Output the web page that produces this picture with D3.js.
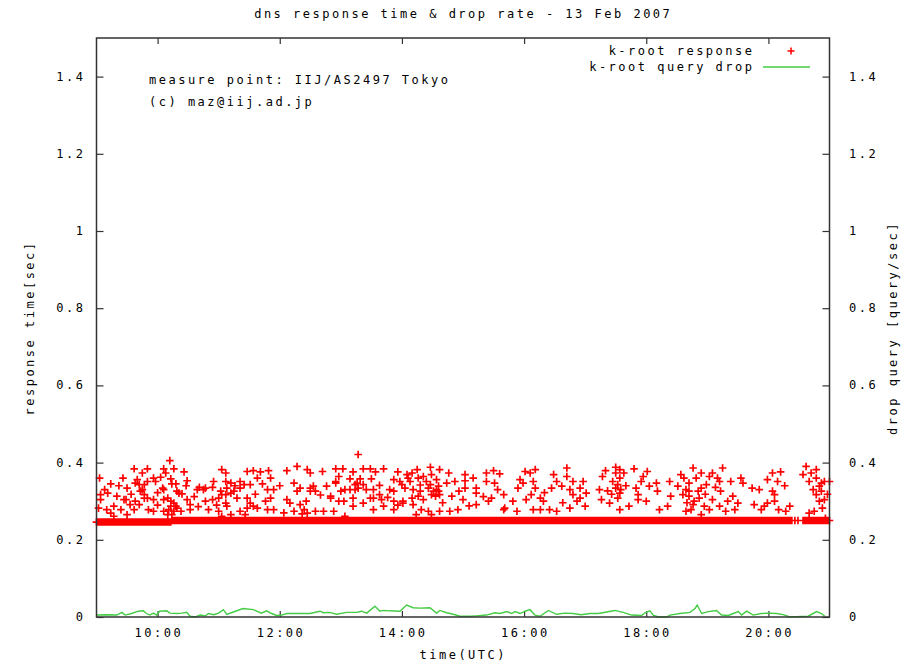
<!DOCTYPE html>
<html>
<meta charset="utf-8">
<head>
  <script src="https://cdn.jsdelivr.net/npm/d3@7"></script>
  <style>
    body { margin:0; background:#fff; }
    text { font-family:"DejaVu Sans Mono", monospace; font-size:12px; letter-spacing:2.5px; fill:#000; }
  </style>
</head>
<body>
<script>
    // times are minutes after 09:00 UTC, 13 Feb 2007
    var title = 'dns response time & drop rate - 13 Feb 2007'
    var notes = ['measure point: IIJ/AS2497 Tokyo', '(c) maz@iij.ad.jp']
    var seriesNames = ['k-root response', 'k-root query drop']
    var yTicks = [0, 0.2, 0.4, 0.6, 0.8, 1, 1.2, 1.4]

    // dense floor of responses: [from, to, seconds]
    var floorRuns = [[0, 73, 0.246], [74, 683, 0.250], [694, 720, 0.250]]
    var floorExtra = [[686, 0.250], [689, 0.250]]

    // scattered responses: [minute, ms]
    var scatter = [
	[72,405],[37,384],[50,384],[66,384],[76,384],[86,376],[68,373],[45,373],[63,362],[3,360],
	[26,360],[40,356],[56,360],[73,358],[89,353],[14,345],[38,347],[47,343],[50,351],[58,351],
	[74,345],[78,345],[101,336],[107,334],[123,382],[127,373],[115,351],[132,347],[141,351],[148,377],
	[154,379],[161,376],[169,379],[171,360],[158,360],[187,379],[197,390],[207,382],[210,373],[222,377],
	[235,384],[235,351],[238,364],[4,317],[11,321],[20,313],[27,304],[30,334],[43,326],[47,317],
	[66,330],[79,326],[84,319],[99,330],[105,330],[114,336],[122,326],[127,317],[132,321],[135,326],
	[141,334],[145,343],[151,343],[163,345],[168,330],[174,330],[194,347],[197,326],[200,334],[210,334],
	[213,339],[215,326],[226,339],[230,308],[240,326],[4,304],[2,282],[17,287],[24,278],[29,304],
	[33,291],[38,300],[47,308],[50,308],[56,304],[66,304],[73,300],[76,295],[89,304],[92,291],
	[107,300],[114,304],[120,308],[127,295],[128,287],[138,308],[148,308],[151,295],[154,287],[166,300],
	[171,308],[187,304],[190,295],[200,291],[230,313],[238,300],[14,269],[30,265],[37,278],[42,291],
	[51,278],[56,274],[66,274],[71,278],[76,274],[79,282],[83,274],[92,278],[110,278],[120,274],
	[132,265],[141,274],[148,282],[158,282],[168,278],[174,278],[194,274],[204,278],[207,269],[215,274],
	[223,274],[233,274],[17,261],[70,265],[74,265],[123,261],[146,265],[202,267],
	[70,308],[73,287],[78,287],[65,334],[81,321],[42,343],[45,330],[127,351],[128,334],[123,317],
	[210,326],[235,347],[8,330],[22,340],[34,318],[60,322],[88,340],[96,312],[118,290],[136,340],
	[156,318],[180,340],[206,300],[220,316],[184,270],[10,278],[60,290],[100,286],
	[257,421],[242,384],[252,376],[262,384],[269,384],[274,376],[282,384],[249,358],[259,358],[270,358],
	[256,347],[262,343],[278,341],[244,330],[254,330],[257,334],[265,330],[272,330],[288,330],[292,356],
	[296,376],[298,351],[305,369],[310,373],[315,382],[308,351],[316,360],[328,388],[329,369],[337,382],
	[346,373],[321,364],[324,351],[334,356],[344,347],[352,351],[362,369],[362,353],[370,360],[383,373],
	[390,379],[396,371],[383,351],[391,347],[373,334],[362,334],[373,321],[292,326],[303,334],[311,330],
	[318,326],[326,334],[334,330],[337,317],[278,317],[269,308],[252,308],[243,300],[280,304],[292,300],
	[301,300],[310,308],[316,313],[321,304],[329,317],[336,326],[349,313],[360,304],[252,287],[262,295],
	[272,278],[282,287],[292,278],[301,295],[311,291],[319,278],[326,274],[337,274],[347,274],[355,278],
	[373,291],[385,300],[388,308],[400,317],[401,282],[409,300],[414,334],[416,356],[421,377],[426,373],
	[431,382],[429,351],[419,347],[427,317],[431,334],[436,308],[439,300],[422,304],[413,274],[429,278],
	[436,278],[445,278],[452,274],[447,334],[452,351],[449,369],[462,386],[462,364],[468,351],[457,339],
	[465,330],[468,317],[475,334],[478,351],[472,300],[465,282],[480,287],[475,308],[481,321],[244,261],
	[314,265],[329,265],[400,278],
	[328,343],[331,326],[333,313],[336,339],[306,360],[300,343],[254,343],[249,330],[272,308],
	[286,310],[296,290],[318,342],[340,296],[356,326],[366,288],[380,312],[394,330],[440,322],[458,296],
	[500,379],[510,388],[514,382],[518,373],[528,384],[497,364],[507,351],[514,360],[494,330],[502,327],
	[510,334],[514,321],[496,304],[504,295],[512,308],[515,330],[514,278],[523,287],[537,364],[541,377],
	[535,351],[543,339],[550,347],[530,334],[532,317],[532,304],[551,326],[553,278],[561,287],[563,351],
	[564,313],[574,369],[577,360],[571,339],[582,347],[576,317],[582,326],[586,386],[589,360],[594,373],
	[594,334],[587,300],[584,278],[592,308],[599,343],[602,364],[605,373],[610,360],[612,351],[615,386],
	[613,326],[605,304],[597,287],[602,278],[594,265],[579,274],[612,287],[623,351],[633,360],[635,347],
	[625,313],[630,295],[627,278],[618,274],[644,334],[651,330],[646,291],[653,278],[659,356],[664,373],
	[672,376],[669,351],[664,326],[666,317],[659,295],[666,300],[670,278],[677,274],[681,287],[656,287],
	[697,390],[707,382],[694,369],[702,373],[707,360],[700,351],[710,339],[715,351],[712,326],[707,317],
	[715,304],[713,282],[705,274],[700,269],[720,351],[716,256],
	[579,330],[582,313],[586,291],[591,326],[510,373],[512,343],[712,347],[710,300],
	[506,318],[520,340],[540,300],[580,296],[598,318],[608,336],[620,300],[676,340],[704,330],[718,318]
    ]

    // query drop (query/sec)
    var dropMinutes = [0,10,20,25,28,34.5,41,46,49,52.5,56,59,62,69,72,79,84,88.5,92,97,
	102,107,110,115,120,124.6,128,134.4,144,154,162,167,172,177,182,187,196.6,209.7,219.5,223,
	229,236,245.7,255.5,260.4,265.4,273.5,278.4,281.7,288,298,304.6,311,317.7,327.5,334,337.4,344,350.5,357,
	366.8,373,383,391.4,396,403,407.8,411,416,420.9,425.8,430.7,435.6,443.8,452,460,468,476,484.7,492.9,
	501,509,517.4,525.6,535.5,538.7,543.6,546.9,551.8,560,563.3,573,583,587.8,590,594.4,601,609,614,620.6,
	625.5,630.4,633.7,638.6,645,653,659.9,668,674.6,681,699,707.3,712,715.5]
    var dropRate = [0.005,0.006,0.005,0.012,0.005,0.009,0.015,0.016,0.009,0.005,0.010,0.005,0.015,0.016,0.010,0.009,0.010,0.012,0.002,0,
	0.005,0.003,0.009,0.006,0.010,0.019,0.007,0.013,0.022,0.019,0.010,0.016,0.009,0.004,0.005,0.009,0.009,0.009,0.015,0.011,
	0.012,0.007,0.012,0.012,0.015,0.010,0.028,0.015,0.017,0.016,0.015,0.031,0.024,0.023,0.024,0.010,0.017,0.011,0.007,0.002,
	0.002,0.003,0.005,0.011,0.009,0.014,0.009,0.014,0.009,0.015,0.019,0.005,0.002,0.017,0.007,0.010,0.009,0.006,0.009,0.009,
	0.013,0.017,0.012,0.005,0.004,0.011,0.016,0.005,0,0,0.005,0.009,0.012,0.022,0.031,0.009,0.014,0.017,0.005,0.004,
	0.009,0.014,0.005,0.015,0.005,0.009,0.010,0.009,0.006,0,0.002,0.014,0.009,0.002]

    var t0 = Date.UTC(2007, 1, 13, 9, 0)
    function at(m) { return new Date(t0 + m*60000) }

    var svg = d3.select('body').append('svg').attr('width', 903).attr('height', 666)
    svg.append('rect').attr('width', 903).attr('height', 666).attr('fill', '#fff')

    const L = 96.5, R = 829.5, T = 38, B = 617
    var x = d3.scaleUtc().domain([at(0), at(720)]).range([L, R])
    var y = d3.scaleLinear().domain([0, 1.5]).range([B, T])
    var y2 = d3.scaleLinear().domain([0, 1.5]).range([B, T])
    var fmt = d => String(+d.toFixed(1))
    var ls = 2.5

    // axes: ticks point inward, gnuplot style
    svg.append('g').attr('transform', `translate(${L},0)`)
	.call(d3.axisRight(y).tickValues(yTicks).tickSize(7).tickFormat(''))
    svg.append('g').attr('transform', `translate(${R},0)`)
	.call(d3.axisLeft(y2).tickValues(yTicks).tickSize(7).tickFormat(''))
    svg.append('g').attr('transform', `translate(0,${B})`)
	.call(d3.axisTop(x).ticks(d3.utcHour.every(2)).tickSize(6).tickFormat(''))
    svg.append('g').attr('transform', `translate(0,${T})`)
	.call(d3.axisBottom(x).ticks(d3.utcHour.every(2)).tickSize(6).tickFormat(''))
    svg.selectAll('.domain').remove()
    svg.selectAll('.tick line').attr('stroke', '#333').attr('stroke-width', 1.2)

    svg.append('g').selectAll('text').data(yTicks).join('text')
	.attr('x', 83 + ls).attr('y', d => y(d) + 4).attr('text-anchor', 'end').text(fmt)
    svg.append('g').selectAll('text').data(yTicks).join('text')
	.attr('x', 849).attr('y', d => y2(d) + 4).text(fmt)
    svg.append('g').selectAll('text').data(x.ticks(d3.utcHour.every(2))).join('text')
	.attr('x', d => x(d) + ls/2).attr('y', 637).attr('text-anchor', 'middle')
	.text(d3.utcFormat('%H:%M'))

    // floor band
    var floor = []
    floorRuns.forEach(r => { for (let m = r[0]; m <= r[1]; m++) floor.push([m, r[2]]) })
    floorExtra.forEach(p => floor.push(p))
    var pts = floor.concat(scatter.map(d => [d[0], d[1]/1000]))

    function plus(px, py, s) { return `M${px-s},${py}H${px+s}M${px},${py-s}V${py+s}` }
    svg.append('path')
	.attr('d', pts.map(d => plus(x(at(d[0])), y(d[1]), 3.8)).join(''))
	.attr('stroke', '#ff0000').attr('stroke-width', 1.7).attr('fill', 'none')

    var line = d3.line().x((d, i) => x(at(dropMinutes[i]))).y(d => y2(d))
    svg.append('path').datum(dropRate).attr('d', line)
	.attr('fill', 'none').attr('stroke', '#44cc44').attr('stroke-width', 1.4)

    // frame
    svg.append('rect').attr('x', L).attr('y', T).attr('width', R - L).attr('height', B - T)
	.attr('fill', 'none').attr('stroke', '#333').attr('stroke-width', 1.5)

    svg.append('text').attr('x', 462 + ls/2).attr('y', 18).attr('text-anchor', 'middle').text(title)
    svg.append('text').attr('x', 462 + ls/2).attr('y', 659).attr('text-anchor', 'middle').text('time(UTC)')
    svg.append('text').attr('transform', 'translate(34,328) rotate(-90)').attr('text-anchor', 'middle')
	.text('response time[sec]')
    svg.append('text').attr('transform', 'translate(897,328) rotate(-90)').attr('text-anchor', 'middle')
	.text('drop query [query/sec]')
    svg.selectAll('.note').data(notes).join('text').attr('class', 'note')
	.attr('x', 149).attr('y', (d, i) => 84 + i*22).text(d => d)

    // legend
    svg.selectAll('.leg').data(seriesNames).join('text').attr('class', 'leg')
	.attr('x', 752 + ls).attr('y', (d, i) => 55 + i*16).attr('text-anchor', 'end').text(d => d)
    svg.append('path').attr('d', plus(791, 51, 3.5)).attr('stroke', '#ff0000').attr('stroke-width', 1.5)
    svg.append('line').attr('x1', 763).attr('x2', 810).attr('y1', 67).attr('y2', 67)
	.attr('stroke', '#44cc44').attr('stroke-width', 1.4)
</script>
</body>
</html>
